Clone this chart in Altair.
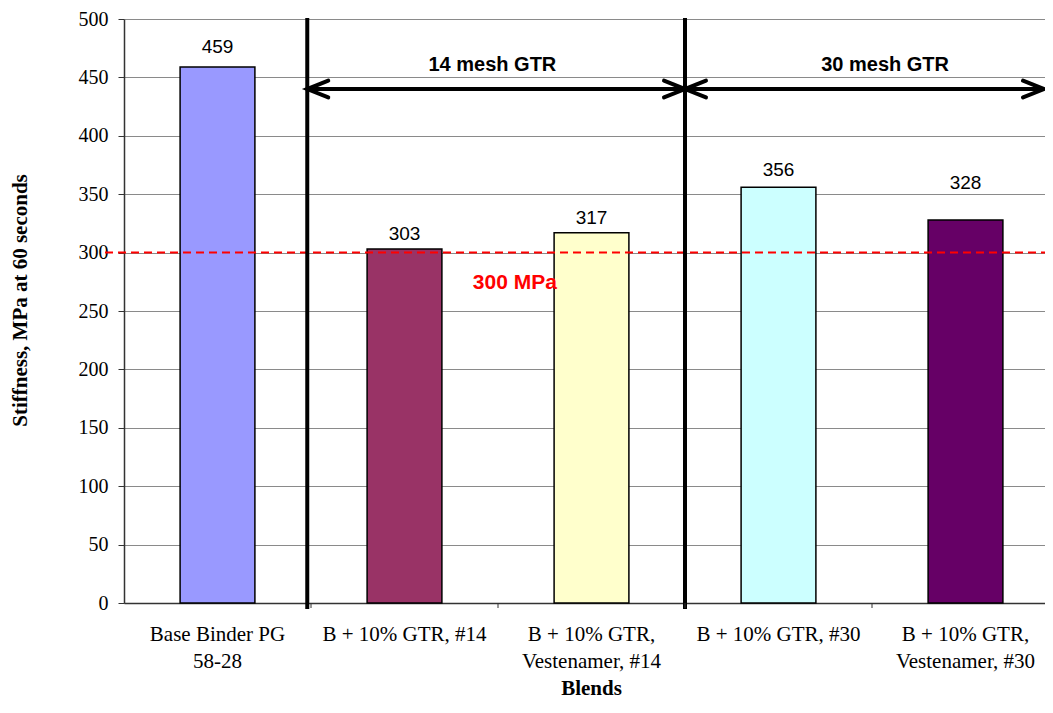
import altair as alt
import pandas as pd

# ---- data ----
categories = ["Base Binder PG|58-28", "B + 10% GTR, #14", "B + 10% GTR,|Vestenamer, #14",
              "B + 10% GTR, #30", "B + 10% GTR,|Vestenamer, #30"]
stiffness = [459, 303, 317, 356, 328]
label_level = [476, 316, 330, 371, 360]   # where each value label sits (MPa units)
bar_colors = ["#9999FF", "#993366", "#FFFFCC", "#CCFFFF", "#660066"]
y_ticks = list(range(0, 501, 50))

threshold = [300]
threshold_label = ["300 MPa"]
threshold_label_x = [2.09]     # in category-band units
threshold_label_y = [274]

group_names = ["14 mesh GTR", "30 mesh GTR"]
group_start = [0.98, 3.0]
group_end = [3.0, 4.92]
group_level = [440, 440]
group_label_x = [1.97, 4.07]
group_label_y = [461, 461]
separators = [0.98, 3.0]
band_edges = [1, 2, 3, 4]

W, H = 935, 584
SERIF = "Liberation Serif"
SANS = "Liberation Sans"

bars_df = pd.DataFrame({"cat": categories, "value": stiffness, "ly": label_level})
thr_df = pd.DataFrame({"value": threshold, "label": threshold_label,
                       "x": threshold_label_x, "y": threshold_label_y})
grp_df = pd.DataFrame({"name": group_names, "start": group_start, "end": group_end,
                       "level": group_level, "lx": group_label_x, "ly": group_label_y})
sep_df = pd.DataFrame({"pos": separators})
edge_df = pd.DataFrame({"pos": band_edges})

yscale = alt.Scale(domain=[0, 500], nice=False, zero=True)
yaxis = alt.Axis(title="Stiffness, MPa at 60 seconds", values=y_ticks, grid=True,
                 gridColor="#8a8a8a", gridWidth=1, tickSize=6, tickColor="#333333",
                 domainColor="#333333", domainWidth=1.5,
                 labelFont=SERIF, labelFontSize=20, labelColor="black", labelPadding=10,
                 titleFont=SERIF, titleFontSize=21, titleFontWeight="bold", titleColor="black",
                 titleAngle=270, titleX=-104, titleY=281, titleBaseline="middle")
qx = alt.Scale(domain=[0, 5], nice=False, zero=False)


def Y(field):
    return alt.Y(field, type="quantitative", scale=yscale, axis=yaxis)


band_scale = alt.Scale(paddingInner=0, paddingOuter=0)
xband = alt.X("cat:N", sort=categories, scale=band_scale,
              axis=alt.Axis(title="Blends", labelExpr="split(datum.label, '|')", ticks=False,
                            labelAngle=0, labelFont=SERIF, labelFontSize=21, labelColor="black",
                            labelPadding=20, labelLineHeight=27, grid=False,
                            domainColor="#333333", domainWidth=1.5,
                            titleFont=SERIF, titleFontSize=21, titleFontWeight="bold",
                            titleColor="black", titleX=467, titleY=85, titleBaseline="middle"))
xband_plain = alt.X("cat:N", sort=categories, scale=band_scale, axis=None)

bars = alt.Chart(bars_df).mark_bar(width=alt.RelativeBandSize(0.4), stroke="black",
                                   strokeWidth=1.5).encode(
    x=xband, y=Y("value"),
    color=alt.Color("cat:N", scale=alt.Scale(domain=categories, range=bar_colors), legend=None))

values = alt.Chart(bars_df).mark_text(baseline="middle", font=SANS, fontSize=19,
                                      color="black").encode(
    x=xband_plain, y=Y("ly"), text=alt.Text("value:Q"))

thr_line = alt.Chart(thr_df).mark_rule(color="#FF0000", strokeDash=[8, 5], strokeWidth=2).encode(
    y=Y("value"), x=alt.value(-19), x2=alt.value(W))

thr_text = alt.Chart(thr_df).mark_text(font=SANS, fontSize=21, fontWeight="bold",
                                       color="#FF0000", baseline="middle").encode(
    x=alt.X("x:Q", scale=qx, axis=None), y=Y("y"), text="label:N")

seps = alt.Chart(sep_df).mark_rule(color="black", strokeWidth=4).encode(
    x=alt.X("pos:Q", scale=qx, axis=None), y=alt.value(-1), y2=alt.value(H + 6))

edges = alt.Chart(edge_df).mark_rule(color="#333333", strokeWidth=1).encode(
    x=alt.X("pos:Q", scale=qx, axis=None), y=alt.value(H), y2=alt.value(H + 5))

arrows = alt.Chart(grp_df).mark_rule(color="black", strokeWidth=4).encode(
    x=alt.X("start:Q", scale=qx, axis=None), x2="end:Q", y=Y("level"))

head_l = alt.Chart(grp_df).mark_point(shape="M 2 -0.8 L 0 0 L 2 0.8", size=441, filled=False,
                                      color="black", strokeWidth=4, strokeCap="round",
                                      opacity=1).encode(
    x=alt.X("start:Q", scale=qx, axis=None), y=Y("level"))

head_r = alt.Chart(grp_df).mark_point(shape="M -2 -0.8 L 0 0 L -2 0.8", size=441, filled=False,
                                      color="black", strokeWidth=4, strokeCap="round",
                                      opacity=1).encode(
    x=alt.X("end:Q", scale=qx, axis=None), y=Y("level"))

grp_text = alt.Chart(grp_df).mark_text(font=SANS, fontSize=20, fontWeight="bold", color="black",
                                       baseline="middle").encode(
    x=alt.X("lx:Q", scale=qx, axis=None), y=Y("ly"), text="name:N")

chart = alt.layer(bars, values, thr_line, seps, edges, arrows, head_l, head_r, grp_text,
                  thr_text).resolve_scale(x="independent").properties(
    width=W, height=H,
    autosize=alt.AutoSizeParams(type="none"),
    padding={"left": 116, "top": 11, "right": -14, "bottom": 95},
    background="white",
).configure_view(stroke=None)

chart.save("out.html", embed_options={"renderer": "svg", "actions": False})
